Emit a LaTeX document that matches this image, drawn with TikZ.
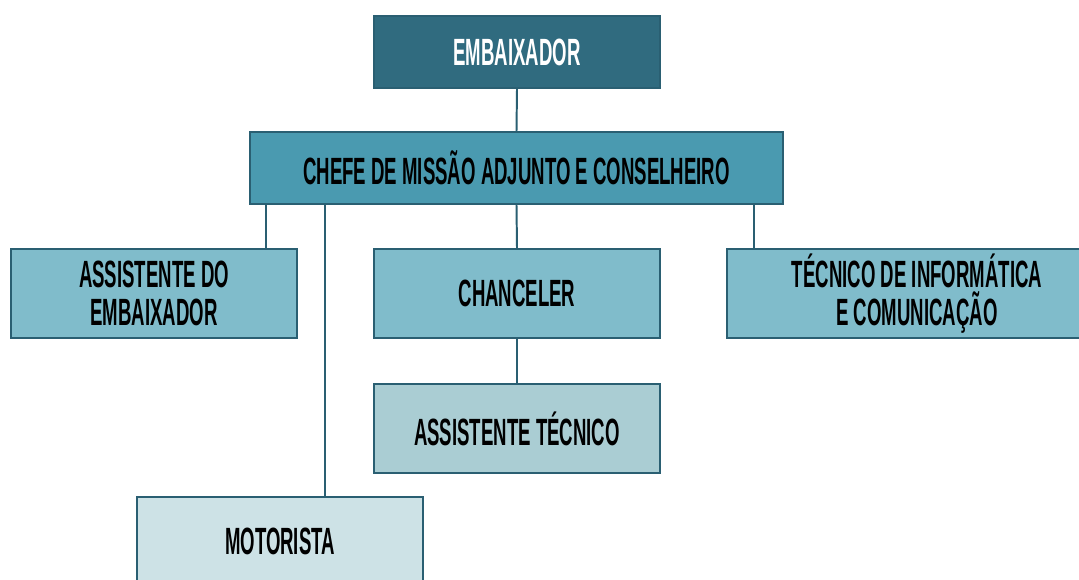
\documentclass[tikz,border=0pt]{standalone}
\usepackage{fontspec}
\setmainfont[FakeStretch=0.49]{Liberation Sans}
\usepackage{tikz}
\usetikzlibrary{positioning}
\definecolor{edge}{HTML}{2A5F72}
\definecolor{lvla}{HTML}{306B7F}
\definecolor{lvlb}{HTML}{4A9AB0}
\definecolor{lvlc}{HTML}{80BCCB}
\definecolor{lvld}{HTML}{AACDD3}
\definecolor{lvle}{HTML}{CDE2E6}
\tikzstyle{box} = [draw=edge,line width=1.4pt,rectangle,align=center,inner sep=0pt,
  font=\fontsize{27}{27}\selectfont\bfseries,text=black]
\tikzstyle{link} = [draw=edge,line width=1.4pt]

\begin{document}
\begin{tikzpicture}[x=0.025cm,y=-0.025cm]
        \useasboundingbox (0,0) rectangle (1079,579);
        \clip (0,0) rectangle (1079,579);
        % \draw[step=20,gray,very thin] (0,0) grid (1079,579);
        \node[box,fill=lvla,text=white,minimum width=7.15cm,minimum height=1.8cm] (emb) at (517,52) {EMBAIXADOR};
        \node[box,fill=lvlb,minimum width=13.3cm,minimum height=1.8cm] (chefe) at (516.5,168) {CHEFE DE MISSÃO ADJUNTO E CONSELHEIRO};
        \node[box,fill=lvlc,minimum width=7.15cm,minimum height=2.225cm] (assemb) at (154,293.5) {ASSISTENTE DO\\EMBAIXADOR};
        \node[box,fill=lvlc,minimum width=7.15cm,minimum height=2.225cm] (chanc) at (517,293.5) {CHANCELER};
        \node[box,fill=lvlc,minimum width=9.5cm,minimum height=2.225cm] (tecinf) at (917,293.5) {TÉCNICO DE INFORMÁTICA\\E COMUNICAÇÃO};
        \node[box,fill=lvld,minimum width=7.15cm,minimum height=2.225cm] (asstec) at (517,428.5) {ASSISTENTE TÉCNICO};
        \node[box,fill=lvle,minimum width=7.15cm,minimum height=2.2cm] (motor) at (280,541) {MOTORISTA};
        \draw[link] (emb.south) -- (chefe.north);
        \draw[link] (chefe.south -| 266,0) -- (assemb.north -| 266,0);
        \draw[link] (chefe.south -| 325,0) -- (motor.north -| 325,0);
        \draw[link] (chefe.south) -- (chanc.north);
        \draw[link] (chefe.south -| 754,0) -- (tecinf.north -| 754,0);
        \draw[link] (chanc.south) -- (asstec.north);
    \end{tikzpicture}
\end{document}
